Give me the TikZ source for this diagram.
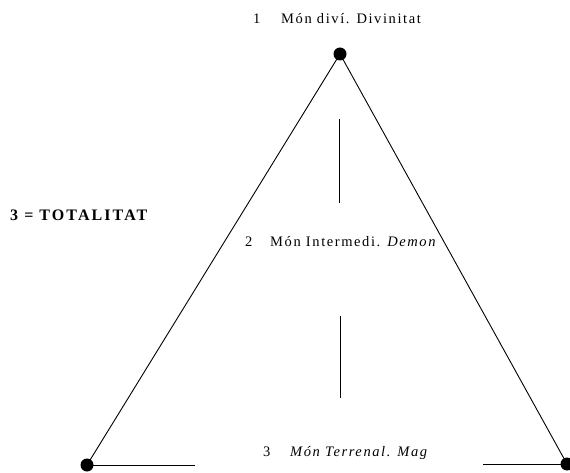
\documentclass[tikz,border=0pt]{standalone}
\usepackage{fontspec}
\setmainfont{Liberation Serif}
\begin{document}
\begin{tikzpicture}[x=1pt,y=-1pt,
  dot/.style={circle,fill=black,inner sep=0pt,minimum size=13pt},
  lbl/.style={anchor=base west,inner sep=0pt,font=\fontsize{14.5}{16}\selectfont\addfontfeature{LetterSpace=11}},
  edge/.style={line width=0.9pt},
  thin/.style={line width=0.8pt}]
\useasboundingbox (0,0) rectangle (570,473);
\node[dot] (top) at (340,54) {};
\node[dot] (bl) at (87,465) {};
\node[dot] (br) at (567,464) {};
\draw[edge] (top.center) -- (bl.center);
\draw[edge] (top.center) -- (br.center);
\coordinate (hl) at (195,465);
\coordinate (hr) at (483,464);
\draw[thin] (bl.center) -- (hl);
\draw[thin] (hr) -- (br.center);
\coordinate (v1a) at (339,119);
\coordinate (v1b) at (339,203);
\coordinate (v2a) at (340,316);
\coordinate (v2b) at (340,398);
\draw[thin] (v1a) -- (v1b);
\draw[thin] (v2a) -- (v2b);
\node[lbl] (n1) at (253,24) {1};
\node[lbl] (t1) at (281,24) {Món diví. Divinitat};
\node[lbl,font=\fontsize{16}{18}\selectfont\bfseries\addfontfeature{LetterSpace=13}] (tot) at (10,221) {3 = TOTALITAT};
\node[lbl] (n2) at (245,246) {2};
\node[lbl] (t2) at (270,246) {Món Intermedi. \textit{Demon}};
\node[lbl] (n3) at (263,456) {3};
\node[lbl] (t3) at (290,456) {\textit{Món Terrenal. Mag}};
\end{tikzpicture}
\end{document}
